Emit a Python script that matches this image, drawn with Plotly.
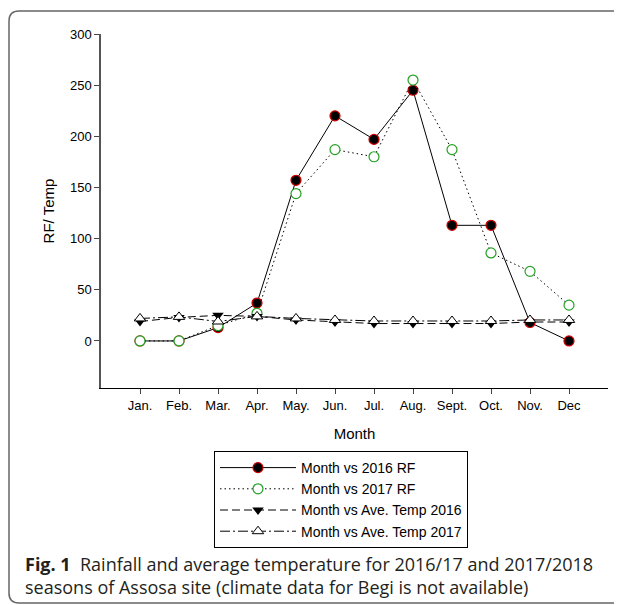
import plotly.graph_objects as go

months = ["Jan.", "Feb.", "Mar.", "Apr.", "May.", "Jun.", "Jul.", "Aug.", "Sept.", "Oct.", "Nov.", "Dec"]
month_pos = [1, 2, 3, 4, 5, 6, 7, 8, 9, 10, 11, 12]
rf_2016 = [0, 0, 13, 37, 157, 220, 197, 245, 113, 113, 18, 0]
rf_2017 = [0, 0, 15, 27, 144, 187, 180, 255, 187, 86, 68, 35]
temp_2016 = [19, 23, 25, 24, 20.5, 18.5, 17, 17, 17, 17, 18.5, 18.5]
temp_2017 = [22, 23.5, 19, 24, 22, 20.5, 19.5, 19.5, 19.5, 19.5, 20.5, 20.5]
y_ticks = [0, 50, 100, 150, 200, 250, 300]

# page body has an 8px margin; figure coordinates are screen coordinates minus OFF
OFF = 8
W, H = 614, 597
L, R, T, B = 101 - OFF, 14, 34 - OFF, 217
pw, ph = W - L - R, H - T - B

def px(x):
    return (x - OFF - L) / pw

def py(y):
    return (H - B - (y - OFF)) / ph

fig = go.Figure()
fig.add_trace(go.Scatter(x=month_pos, y=rf_2016, name="Month vs 2016 RF", mode="lines+markers",
                         line=dict(color="black", width=1),
                         marker=dict(symbol="circle", size=10, color="black", line=dict(color="#d00000", width=1.2))))
fig.add_trace(go.Scatter(x=month_pos, y=rf_2017, name="Month vs 2017 RF", mode="lines+markers",
                         line=dict(color="black", width=1, dash="1.5px,3px"),
                         marker=dict(symbol="circle", size=10, color="white", line=dict(color="#22a022", width=1.2))))
fig.add_trace(go.Scatter(x=month_pos, y=temp_2016, name="Month vs Ave. Temp 2016", mode="lines+markers",
                         line=dict(color="black", width=1, dash="8px,4px"),
                         marker=dict(symbol="triangle-down", size=10, color="black")))
fig.add_trace(go.Scatter(x=month_pos, y=temp_2017, name="Month vs Ave. Temp 2017", mode="lines+markers",
                         line=dict(color="black", width=1, dash="10px,3px,2px,3px"),
                         marker=dict(symbol="triangle-up", size=10, color="white", line=dict(color="black", width=1))))

FONT = "Liberation Sans, Arial"
axis_font = dict(family=FONT, size=13, color="black")

fig.update_layout(
    width=W, height=H,
    margin=dict(l=L, r=R, t=T, b=B, autoexpand=False),
    paper_bgcolor="white", plot_bgcolor="white",
    font=axis_font,
    showlegend=True,
    legend=dict(x=px(214), y=py(451), xanchor="left", yanchor="top",
                bgcolor="white", bordercolor="black", borderwidth=1,
                font=dict(family=FONT, size=14, color="black"),
                itemwidth=76, entrywidth=275, entrywidthmode="pixels",
                tracegroupgap=0, itemclick=False),
    xaxis=dict(range=[0, 13], tickmode="array", tickvals=month_pos, ticktext=months,
               showgrid=False, zeroline=False, showline=True, linecolor="black", linewidth=1,
               ticks="outside", ticklen=5, tickcolor="#444", tickfont=axis_font,
               title=dict(text="Month", font=dict(family=FONT, size=15), standoff=16)),
    yaxis=dict(range=[-46, 300], tickmode="array", tickvals=y_ticks,
               showgrid=False, zeroline=False, showline=True, linecolor="#555", linewidth=1.5,
               ticks="outside", ticklen=5, tickcolor="#444", tickfont=axis_font,
               title=dict(text="RF/ Temp", font=dict(family=FONT, size=15), standoff=12)),
)

# outer rounded frame
xl, xr = px(9), px(680)
yt, yb = py(11), py(603)
rx, ry = 10 / pw, 10 / ph
path = (f"M {xr},{yt} L {xl+rx},{yt} Q {xl},{yt} {xl},{yt-ry} "
        f"L {xl},{yb+ry} Q {xl},{yb} {xl+rx},{yb} L {xr},{yb}")
fig.add_shape(type="path", path=path, xref="paper", yref="paper",
              line=dict(color="#666", width=1.5), layer="below")

cap_font = dict(family="Open Sans, Noto Sans", size=18, color="#231f20")
fig.add_annotation(x=px(23), y=py(564), xref="paper", yref="paper", xanchor="left", yanchor="middle",
                   text="<b>Fig. 1</b>  Rainfall and average temperature for 2016/17 and 2017/2018",
                   showarrow=False, font=cap_font)
fig.add_annotation(x=px(23), y=py(587), xref="paper", yref="paper", xanchor="left", yanchor="middle",
                   text="seasons of Assosa site (climate data for Begi is not available)",
                   showarrow=False, font=cap_font)

fig.write_html("out.html")
